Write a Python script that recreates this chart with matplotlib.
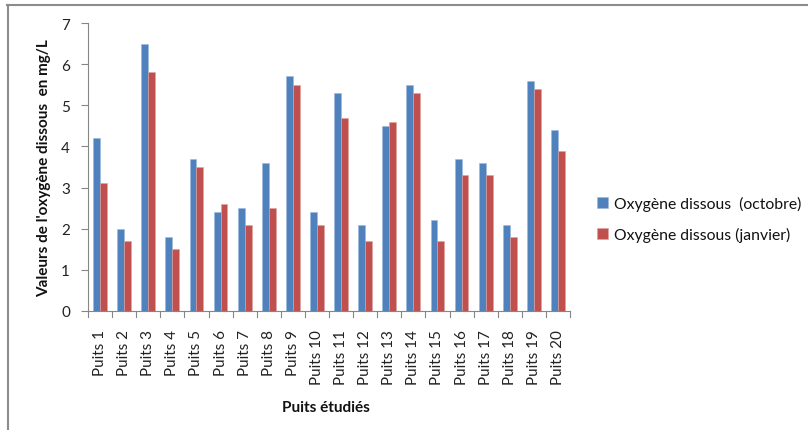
import matplotlib
matplotlib.use("Agg")
import matplotlib.pyplot as plt
import numpy as np
from matplotlib.lines import Line2D

wells = [f"Puits {i}" for i in range(1, 21)]
oct_vals = [4.2, 2.0, 6.5, 1.8, 3.7, 2.4, 2.5, 3.6, 5.7, 2.4,
            5.3, 2.1, 4.5, 5.5, 2.2, 3.7, 3.6, 2.1, 5.6, 4.4]
jan_vals = [3.1, 1.7, 5.8, 1.5, 3.5, 2.6, 2.1, 2.5, 5.5, 2.1,
            4.7, 1.7, 4.6, 5.3, 1.7, 3.3, 3.3, 1.8, 5.4, 3.9]
series_labels = ["Oxygène dissous  (octobre)", "Oxygène dissous (janvier)"]
y_ticks = [0, 1, 2, 3, 4, 5, 6, 7]

plt.rcParams['font.family'] = ['Lato', 'DejaVu Sans']

W, H = 808, 431
fig = plt.figure(figsize=(W / 100, H / 100), dpi=100)
ax = fig.add_axes([88 / W, 1 - 312 / H, (570 - 88) / W, (312 - 24) / H])

x = np.arange(len(wells))
bw = 0.286
b1 = ax.bar(x - bw / 2, oct_vals, bw, color="#4F81BD", edgecolor="#9DB7DB",
            linewidth=0.4, label=series_labels[0])
b2 = ax.bar(x + bw / 2, jan_vals, bw, color="#C0504D", edgecolor="#E0A3A1",
            linewidth=0.4, label=series_labels[1])

ax.set_xlim(-0.5, len(wells) - 0.5)
ax.set_ylim(0, 7)
ax.set_yticks(y_ticks)
ax.set_xticks(x)
ax.set_xticklabels(wells, rotation=90, fontsize=11, color="#222222")
ax.tick_params(axis='x', length=0, pad=13)
ax.tick_params(axis='y', labelsize=11, labelcolor="#222222", length=5,
               color="#868686", width=0.8, pad=8)

# category separators on the x axis
for b in np.arange(-0.5, len(wells) + 0.5, 1.0):
    ax.plot([b, b], [0, -0.14], color="#868686", lw=0.8, clip_on=False)

for s in ["top", "right"]:
    ax.spines[s].set_visible(False)
for s in ["left", "bottom"]:
    ax.spines[s].set_color("#868686")
    ax.spines[s].set_linewidth(0.8)

fig.text(44 / W, 1 - 168 / H, "Valeurs de l'oxygène dissous  en mg/L",
         rotation=90, ha="center", va="center", fontsize=11,
         fontweight="bold", color="#111111")
fig.text(326 / W, 1 - 408 / H, "Puits étudiés", ha="center", va="center",
         fontsize=11, fontweight="bold", color="#111111")

leg = fig.legend(handles=[b1, b2], labels=series_labels,
                 loc="center left", bbox_to_anchor=(583 / W, 1 - 220 / H),
                 frameon=False, fontsize=11.3, handlelength=0.7,
                 handleheight=0.7, handletextpad=0.35, labelspacing=1.0)
for t in leg.get_texts():
    t.set_color("#111111")

# outer chart frame
fig.add_artist(Line2D([7 / W, 1], [1 - 5.5 / H, 1 - 5.5 / H],
                      color="#8C8C8C", lw=1.5, transform=fig.transFigure))
fig.add_artist(Line2D([7.5 / W, 7.5 / W], [0, 1 - 5.5 / H],
                      color="#8C8C8C", lw=1.5, transform=fig.transFigure))

fig.savefig("out.png", dpi=100)
